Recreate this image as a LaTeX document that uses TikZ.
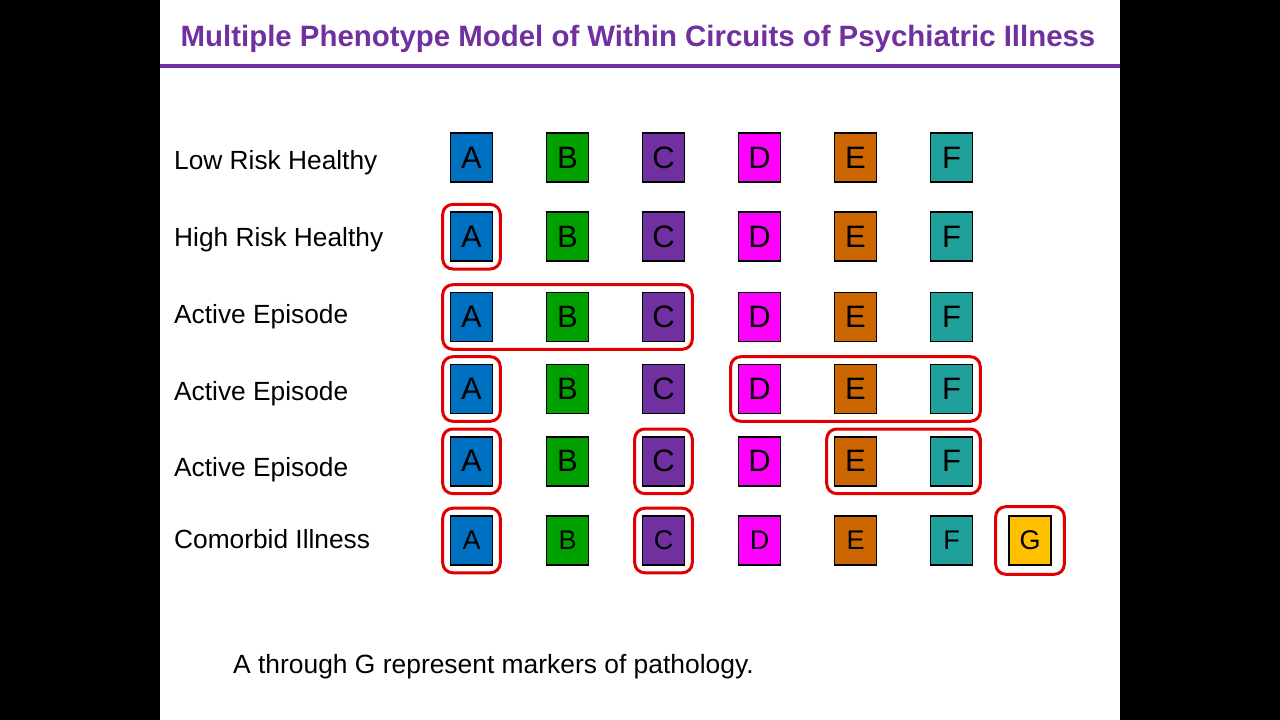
\documentclass[tikz,border=0pt]{standalone}
\usepackage{fontspec}
\setmainfont{Liberation Sans}
\usetikzlibrary{fit}
\definecolor{ttl}{HTML}{7030A0}
\definecolor{cA}{HTML}{0070C0}
\definecolor{cB}{HTML}{00A000}
\definecolor{cC}{HTML}{7030A0}
\definecolor{cD}{HTML}{FF00FF}
\definecolor{cE}{HTML}{CC6600}
\definecolor{cF}{HTML}{1FA09A}
\definecolor{cG}{HTML}{FFC000}
\definecolor{grp}{HTML}{E00000}
\tikzset{
  marker/.style={draw=black, line width=1.6pt, minimum width=42pt, minimum height=49pt, inner sep=0pt, font=\fontsize{31}{31}\selectfont},
  smallmarker/.style={marker, font=\fontsize{27}{27}\selectfont},
  rowlabel/.style={anchor=base west, inner sep=0pt, font=\fontsize{26.3}{26}\selectfont},
  group/.style={draw=grp, line width=3pt, rounded corners=10pt, inner xsep=7pt, inner ysep=7pt}
}
\begin{document}
\begin{tikzpicture}[x=1pt,y=-1pt]
\useasboundingbox (0,0) rectangle (1280,720);
\fill[black] (0,0) rectangle (160,720);
\fill[black] (1120,0) rectangle (1280,720);
\fill[white] (160,0) rectangle (1120,720);
\node[anchor=base, inner sep=0pt] (title) at (638,46) {\fontsize{29.4}{30}\selectfont\bfseries\color{ttl}Multiple Phenotype Model of Within Circuits of Psychiatric Illness};
\fill[ttl] (160,64) rectangle (1120,68);
% row labels
\node[rowlabel] (l1) at (174,169) {Low Risk Healthy};
\node[rowlabel] (l2) at (174,246) {High Risk Healthy};
\node[rowlabel] (l3) at (174,323) {Active Episode};
\node[rowlabel] (l4) at (174,400) {Active Episode};
\node[rowlabel] (l5) at (174,476) {Active Episode};
\node[rowlabel] (l6) at (174,548) {Comorbid Illness};
% boxes rows 1-5
\foreach \r/\y in {1/157.5,2/236.7,3/317,4/389,5/461.3}{
  \node[marker, fill=cA] (r\r A) at (471.5,\y) {A};
  \node[marker, fill=cB] (r\r B) at (567.5,\y) {B};
  \node[marker, fill=cC] (r\r C) at (663.5,\y) {C};
  \node[marker, fill=cD] (r\r D) at (759.5,\y) {D};
  \node[marker, fill=cE] (r\r E) at (855.5,\y) {E};
  \node[marker, fill=cF] (r\r F) at (951.5,\y) {F};
}
\node[smallmarker, fill=cA] (r6A) at (471.5,540.5) {A};
\node[smallmarker, fill=cB] (r6B) at (567.5,540.5) {B};
\node[smallmarker, fill=cC] (r6C) at (663.5,540.5) {C};
\node[smallmarker, fill=cD] (r6D) at (759.5,540.5) {D};
\node[smallmarker, fill=cE] (r6E) at (855.5,540.5) {E};
\node[smallmarker, fill=cF] (r6F) at (951.5,540.5) {F};
\node[smallmarker, fill=cG] (r6G) at (1030,540.5) {G};
% groups
\node[group, fit=(r2A)] (g2a) {};
\node[group, fit=(r3A)(r3C)] (g3a) {};
\node[group, fit=(r4A)] (g4a) {};
\node[group, fit=(r4D)(r4F)] (g4b) {};
\node[group, fit=(r5A)] (g5a) {};
\node[group, fit=(r5C)] (g5b) {};
\node[group, fit=(r5E)(r5F)] (g5c) {};
\node[group, fit=(r6A)] (g6a) {};
\node[group, fit=(r6C)] (g6b) {};
\node[group, fit=(r6G), inner xsep=12.5pt, inner ysep=8.5pt] (g6c) {};
% footnote
\node[anchor=base west, inner sep=0pt, font=\fontsize{26.4}{26}\selectfont] (note) at (233,673) {A through G represent markers of pathology.};
\end{tikzpicture}
\end{document}
